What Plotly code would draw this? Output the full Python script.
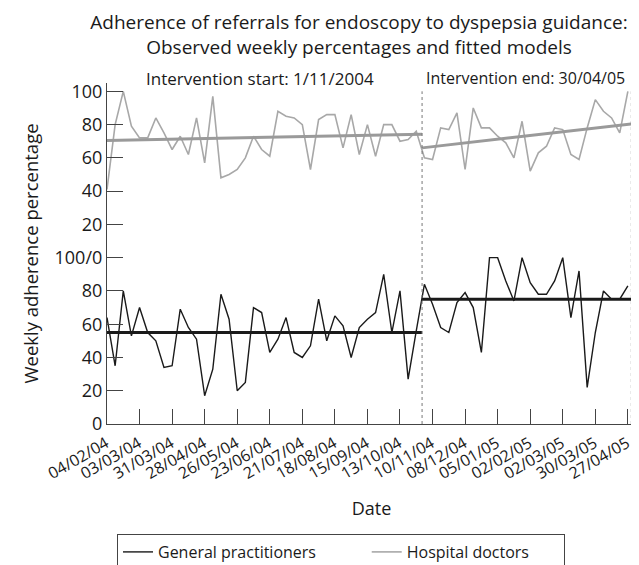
import pandas as pd
import plotly.graph_objects as go

# ---- data ----
start_date = "2004-02-04"
n_weeks = 65
gp_values = [64, 35, 80, 53, 70, 55, 50, 34, 35, 69, 58, 51, 17, 33, 78, 63, 20,
             25, 70, 67, 43, 51, 64, 43, 40, 47, 75, 50, 65, 59, 40, 58, 63,
             67, 90, 55, 80, 27, 56, 84, 72, 58, 55, 73, 79, 70, 43, 100, 100,
             86, 74, 100, 85, 78, 78, 86, 100, 64, 92, 22, 55, 80, 75, 75, 83]
hosp_values = [41, 80, 100, 79, 72, 72, 84, 75, 65, 73, 62, 84, 57, 97, 48, 50, 53,
               60, 73, 65, 61, 88, 85, 84, 80, 53, 83, 86, 86, 66, 86, 62, 80,
               61, 80, 80, 70, 71, 76, 60, 59, 78, 77, 87, 53, 90, 78, 78, 73,
               69, 60, 82, 52, 63, 67, 78, 77, 62, 59, 78, 95, 88, 84, 75, 100]
intervention_start = "2004-11-01"
intervention_end = "2005-04-30"
gp_fit_pre = [55, 55]
gp_fit_post = [75, 75]
hosp_fit_pre = [70.4, 74.2]
hosp_fit_post = [66, 80.4]
hosp_offset = 100
y_tick_vals = [0, 20, 40, 60, 80, 100, 120, 140, 160, 180, 200]
y_tick_text = ["0", "20", "40", "60", "80", "100/0", "20", "40", "60", "80", "100"]

dates = pd.date_range(start_date, periods=n_weeks, freq="7D")
FONT = "Open Sans"
DARK = "#1a1a1a"
GREY = "#a8a8a8"
NB = "\u00a0"

# the page body adds an 8px margin, so the figure is 8px smaller and all
# target positions are given in figure pixels (screen pixels minus 8)
W, H = 631, 557
PLOT_L, PLOT_R, PLOT_T, PLOT_B = 99, 628, 75, 416
PW = PLOT_R - PLOT_L
PH = PLOT_B - PLOT_T

fig = go.Figure()
fig.add_trace(go.Scatter(x=dates, y=gp_values, mode="lines",
                         name="General practitioners" + NB * 11,
                         line=dict(color=DARK, width=1.4)))
fig.add_trace(go.Scatter(x=dates, y=[v + hosp_offset for v in hosp_values], mode="lines",
                         name="Hospital doctors" + NB * 7, line=dict(color=GREY, width=1.6)))
# fitted models
fig.add_trace(go.Scatter(x=[dates[0], intervention_start], y=gp_fit_pre, mode="lines",
                         showlegend=False, line=dict(color=DARK, width=3)))
fig.add_trace(go.Scatter(x=[intervention_start, intervention_end], y=gp_fit_post, mode="lines",
                         showlegend=False, line=dict(color=DARK, width=3)))
fig.add_trace(go.Scatter(x=[dates[0], intervention_start], y=[v + hosp_offset for v in hosp_fit_pre],
                         mode="lines", showlegend=False, line=dict(color="#9a9a9a", width=3)))
fig.add_trace(go.Scatter(x=[intervention_start, intervention_end], y=[v + hosp_offset for v in hosp_fit_post],
                         mode="lines", showlegend=False, line=dict(color="#9a9a9a", width=3)))

for d in (intervention_start, intervention_end):
    fig.add_shape(type="line", x0=d, x1=d, y0=0, y1=200, xref="x", yref="y",
                  line=dict(color="#777777", width=1, dash="dot"))

fig.add_annotation(x=(368 - PLOT_L) / PW, y=1.0, xref="paper", yref="paper", yanchor="middle",
                   xanchor="right", yshift=5, text="Intervention start: 1/11/2004",
                   showarrow=False, font=dict(family=FONT, size=17, color=DARK))
fig.add_annotation(x=(416 - PLOT_L) / PW, y=1.0, xref="paper", yref="paper", yanchor="middle",
                   xanchor="left", yshift=5, text="Intervention end: 30/04/05",
                   showarrow=False, font=dict(family=FONT, size=16, color=DARK))

fig.update_layout(
    template="none",
    width=W, height=H,
    margin=dict(l=PLOT_L, r=W - PLOT_R, t=PLOT_T, b=H - PLOT_B, autoexpand=False),
    paper_bgcolor="white", plot_bgcolor="white",
    font=dict(family=FONT, size=17, color=DARK),
    title=dict(text="Adherence of referrals for endoscopy to dyspepsia guidance:<br>"
                    "Observed weekly percentages and fitted models",
               x=351 / W, xref="container", xanchor="center",
               y=0.962, yref="container", yanchor="top",
               font=dict(family=FONT, size=19, color=DARK)),
    xaxis=dict(type="date", range=["2004-02-04", "2005-05-04"], automargin=False,
               tick0=start_date, dtick=28 * 86400000, tickformat="%d/%m/%y",
               tickangle=-30, ticks="inside", ticklen=15, tickcolor="#444",
               ticklabelshift=-1, ticklabelstandoff=3,
               showline=True, linecolor="#444", linewidth=1.2, showgrid=False,
               zeroline=False, tickfont=dict(size=16),
               title=dict(text="Date", font=dict(size=18), standoff=19)),
    yaxis=dict(range=[0, 205], tickvals=y_tick_vals, ticktext=y_tick_text, automargin=False,
               ticks="inside", ticklen=16, tickcolor="#444",
               showline=True, linecolor="#444", linewidth=1.2, showgrid=False,
               zeroline=False, tickfont=dict(size=18),
               title=dict(text="Weekly adherence percentage", font=dict(size=18.5), standoff=11)),
    legend=dict(orientation="h", x=(109 - PLOT_L) / PW, xanchor="left",
                y=(PLOT_B - 526) / PH, yanchor="top",
                bordercolor="#444", borderwidth=1, font=dict(size=16),
                itemwidth=30, bgcolor="white"),
    showlegend=True,
)

fig.write_html("out.html")
